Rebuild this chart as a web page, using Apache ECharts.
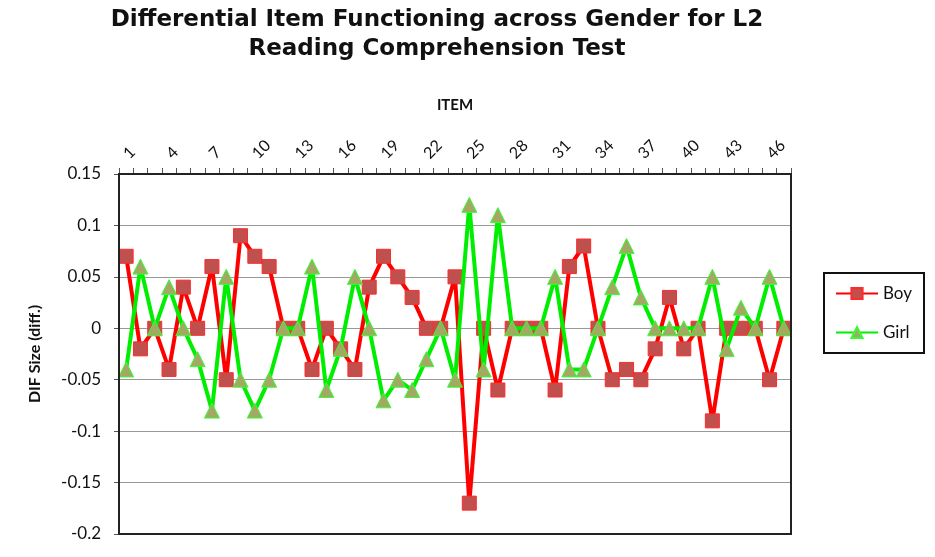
<!DOCTYPE html>
<html>
<head>
<meta charset="utf-8">
<script src="https://cdn.jsdelivr.net/npm/echarts@6/dist/echarts.min.js"></script>
<style>html,body{margin:0;padding:0;background:#fff}#c{width:935px;height:557px}</style>
</head>
<body>
<div id="c"></div>
<script>
const items = Array.from({length: 47}, (_, i) => String(i + 1));
const boy = [0.07,-0.02,0,-0.04,0.04,0,0.06,-0.05,0.09,0.07,
  0.06,0,0,-0.04,0,-0.02,-0.04,0.04,0.07,0.05,
  0.03,0,0,0.05,-0.17,0,-0.06,0,0,0,
  -0.06,0.06,0.08,0,-0.05,-0.04,-0.05,-0.02,0.03,-0.02,
  0,-0.09,0,0,0,-0.05,0];
const girl = [-0.04,0.06,0,0.04,0,-0.03,-0.08,0.05,-0.05,-0.08,
  -0.05,0,0,0.06,-0.06,-0.02,0.05,0,-0.07,-0.05,
  -0.06,-0.03,0,-0.05,0.12,-0.04,0.11,0,0,0,
  0.05,-0.04,-0.04,0,0.04,0.08,0.03,0,0,0,
  0,0.05,-0.02,0.02,0,0.05,0];
const titleLines = ['Differential Item Functioning across Gender for L2', 'Reading Comprehension Test'];

const chart = echarts.init(document.getElementById('c'), null, {renderer: 'canvas'});
chart.setOption({
  animation: false,
  backgroundColor: '#fff',
  title: {
    text: titleLines.join('\n'),
    left: 432, textAlign: 'center', top: 1,
    textStyle: {fontFamily: 'DejaVu Sans', fontWeight: 'bold', fontSize: 23, lineHeight: 29, color: '#111'}
  },
  legend: {
    orient: 'vertical',
    left: 824, top: 273,
    padding: [12, 12, 12, 11],
    itemGap: 22,
    itemWidth: 42, itemHeight: 14,
    borderColor: '#111', borderWidth: 2,
    textStyle: {fontFamily: 'Lato', fontSize: 17, color: '#111'},
    data: ['Boy', 'Girl']
  },
  grid: {left: 119, right: 144, top: 174, bottom: 23, containLabel: false},
  xAxis: {
    type: 'category', position: 'top', data: items, boundaryGap: true,
    name: 'ITEM', nameLocation: 'middle', nameGap: 61,
    nameTextStyle: {fontFamily: 'Lato', fontWeight: 'bold', fontSize: 15, color: '#111'},
    axisLine: {show: true, onZero: false, lineStyle: {color: '#222', width: 2}},
    axisTick: {show: true, interval: 0, length: 6, lineStyle: {color: '#555'}},
    axisLabel: {interval: 2, rotate: -45, fontFamily: 'Lato', fontSize: 16, color: '#111', margin: 18},
    splitLine: {show: false}
  },
  yAxis: {
    type: 'value', min: -0.2, max: 0.15, interval: 0.05,
    name: 'DIF Size (diff.)', nameLocation: 'middle', nameGap: 76,
    nameTextStyle: {fontFamily: 'Lato', fontWeight: 'bold', fontSize: 16, color: '#111'},
    axisLine: {show: true, lineStyle: {color: '#222', width: 2}},
    axisTick: {show: true, length: 5, lineStyle: {color: '#555'}},
    axisLabel: {fontFamily: 'Lato', fontSize: 17, color: '#111', margin: 18},
    splitLine: {show: true, lineStyle: {color: '#999', width: 1}}
  },
  graphic: [{
    type: 'rect', shape: {x: 119, y: 174, width: 672, height: 360},
    style: {fill: 'none', stroke: '#222', lineWidth: 2}, silent: true, z: 10
  }],
  series: [
    {
      name: 'Boy', type: 'line', data: boy, showAllSymbol: true,
      symbol: 'rect', symbolSize: 14,
      lineStyle: {color: '#ff0000', width: 4},
      itemStyle: {color: '#c0504d', borderColor: '#ff2a2a', borderWidth: 1},
      z: 3
    },
    {
      name: 'Girl', type: 'line', data: girl, showAllSymbol: true,
      symbol: 'triangle', symbolSize: 15,
      lineStyle: {color: '#00ee00', width: 4},
      itemStyle: {color: '#a3a863', borderColor: '#33ff33', borderWidth: 1},
      z: 4
    }
  ]
});
</script>
</body>
</html>
